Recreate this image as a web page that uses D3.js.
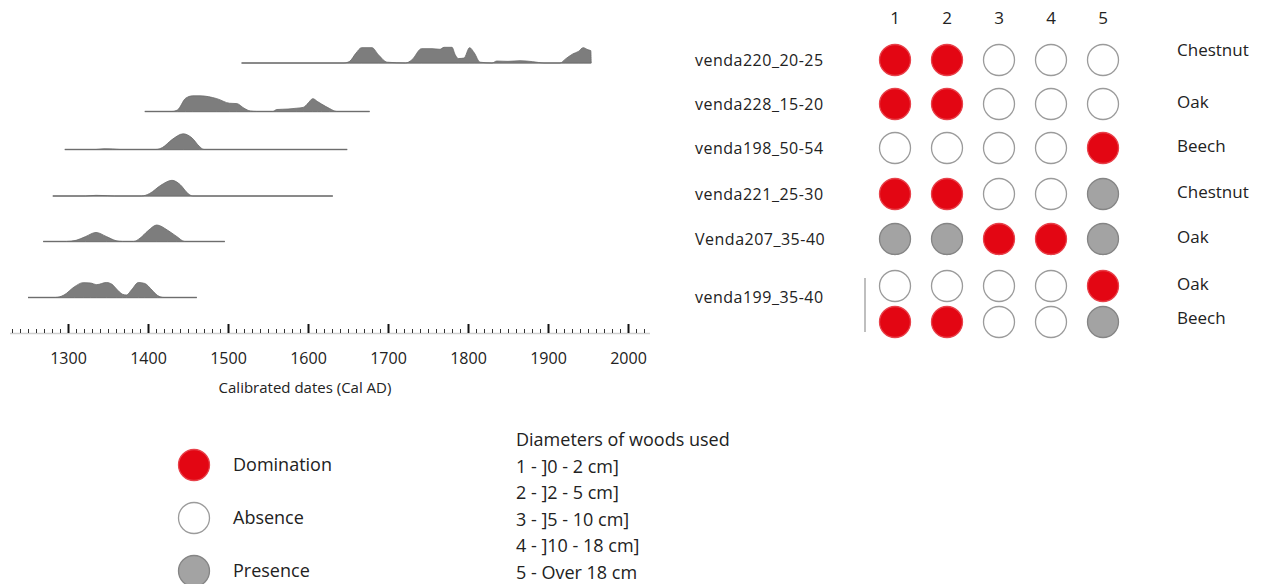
<!DOCTYPE html>
<html>
<head>
<meta charset="utf-8">
<script src="https://cdn.jsdelivr.net/npm/d3@7"></script>
<style>
  body { margin: 0; background: #fff; }
  text { font-family: "Open Sans", "Noto Sans", sans-serif; fill: #222; }
</style>
</head>
<body>
<script>
// taille de la figure
const largeur = 1270;
const hauteur = 584;

// échantillons (lignes du tableau)
const echantillons = ["venda220_20-25", "venda228_15-20", "venda198_50-54",
                      "venda221_25-30", "Venda207_35-40", "venda199_35-40"];
const especes = ["Chestnut", "Oak", "Beech", "Chestnut", "Oak", "Oak", "Beech"];
const classesDiam = ["1", "2", "3", "4", "5"];

// D = domination, A = absence, P = présence
const etats = [
  ["D", "D", "A", "A", "A"],
  ["D", "D", "A", "A", "A"],
  ["A", "A", "A", "A", "D"],
  ["D", "D", "A", "A", "P"],
  ["P", "P", "D", "D", "P"],
  ["A", "A", "A", "A", "D"],
  ["D", "D", "A", "A", "P"]
];
// ligne d'échantillon de chaque rangée de cercles
const rangEchantillon = [0, 1, 2, 3, 4, 5, 5];

// densités de probabilité des dates calibrées [année, densité relative]
const dens220 = [[1517,0],[1645,0],[1652,0.1],[1660,0.6],[1667,0.93],[1680,0.93],[1688,0.5],[1699,0.05],[1722,0],
  [1730,0.2],[1742,0.87],[1755,0.87],[1765,0.83],[1770,0.95],[1780,0.95],[1784,0.5],[1788,0.27],[1795,0.3],
  [1802,0.93],[1808,0.6],[1815,0.05],[1830,0],[1836,0.12],[1850,0.1],[1865,0.14],[1881,0.08],[1895,0],
  [1915,0],[1922,0.25],[1931,0.55],[1938,0.7],[1944,0.93],[1950,0.8],[1953.5,0.75],[1954,0]];
const dens228 = [[1396,0],[1430,0],[1437,0.1],[1447,0.8],[1456,0.95],[1465,0.95],[1486,0.78],[1502,0.5],
  [1511,0.48],[1520,0.2],[1528,0.03],[1536,0],[1556,0],[1561,0.12],[1575,0.15],[1586,0.2],[1594,0.25],
  [1600,0.5],[1606,0.78],[1612,0.6],[1617,0.45],[1627,0.18],[1636,0],[1677,0]];
const dens198 = [[1296,0],[1335,0],[1345,0.04],[1356,0.03],[1365,0],[1410,0],[1418,0.12],[1430,0.6],
  [1444,0.95],[1455,0.7],[1464,0.2],[1470,0],[1649,0]];
const dens221 = [[1281,0],[1322,0],[1335,0.04],[1349,0.02],[1358,0],[1392,0],[1402,0.15],[1416,0.65],
  [1430,0.95],[1440,0.7],[1450,0.15],[1456,0],[1631,0]];
const dens207 = [[1269,0],[1298,0],[1310,0.07],[1322,0.3],[1335,0.55],[1348,0.3],[1360,0.05],[1368,0],
  [1382,0],[1390,0.2],[1400,0.65],[1411,1.0],[1424,0.7],[1436,0.3],[1446,0],[1496,0]];
const dens199 = [[1250,0],[1284,0],[1295,0.15],[1308,0.65],[1319,0.9],[1328,0.88],[1336,0.78],[1348,0.91],
  [1355,0.8],[1361,0.5],[1368,0.2],[1373,0.15],[1380,0.5],[1388,0.91],[1396,0.85],[1405,0.45],[1412,0.12],
  [1420,0],[1461,0]];
const densites = [dens220, dens228, dens198, dens221, dens207, dens199];

const anneesMajeures = d3.range(1300, 2001, 100);
const anneesMineures = d3.range(1230, 2021, 10);

const legendeEtats = [["D", "Domination"], ["A", "Absence"], ["P", "Presence"]];
const legendeDiam = ["Diameters of woods used", "1 - ]0 - 2 cm]", "2 - ]2 - 5 cm]",
                     "3 - ]5 - 10 cm]", "4 - ]10 - 18 cm]", "5 - Over 18 cm"];

// mise en page
const baseDensite = [63, 111.5, 149.5, 196, 241.5, 297.5];
const hauteurDensite = 16.5;
const yAxe = 333;
const rangY = [60, 104, 148, 194, 239, 286, 322];
const decalageEspece = [-8, 0, 0, 0, 0, 0, -2];
const rayonCercle = 15.5;

const couleurs = {
  D: { fill: "#e30613", stroke: "#e8414a" },
  A: { fill: "#ffffff", stroke: "#9b9b9b" },
  P: { fill: "#a3a3a3", stroke: "#858585" }
};

const svg = d3.select("body").append("svg")
    .attr("width", largeur)
    .attr("height", hauteur);

// échelle du temps
const x = d3.scaleLinear().domain([1300, 2000]).range([68, 628]);
const yDens = d3.scaleLinear().domain([0, 1]).range([0, hauteurDensite]);

// densités
densites.forEach((d, i) => {
    const g = svg.append("g").attr("transform", `translate(0,${baseDensite[i]})`);
    g.append("line")
        .attr("x1", x(d[0][0])).attr("x2", x(d[d.length - 1][0]))
        .attr("y1", 0).attr("y2", 0)
        .style("stroke", "#c4c4c4")
        .style("stroke-width", 2);
    const aire = d3.area()
        .x(p => x(p[0]))
        .y0(0)
        .y1(p => -yDens(p[1]))
        .curve(d3.curveMonotoneX);
    g.append("path")
        .attr("d", aire(d))
        .style("fill", "#7d7d7d")
        .style("stroke", "#6a6a6a")
        .style("stroke-width", 0.8);
});

// axe du temps
svg.append("line")
    .attr("x1", 10).attr("x2", 650)
    .attr("y1", yAxe + 0.5).attr("y2", yAxe + 0.5)
    .style("stroke", "#cfcfcf").style("stroke-width", 1.5);

const axeMineur = svg.append("g")
    .attr("transform", `translate(0,${yAxe})`)
    .call(d3.axisBottom(x).tickValues(anneesMineures).tickSize(-4).tickFormat(""));
axeMineur.select(".domain").remove();
axeMineur.selectAll("line").style("stroke", "#333").style("stroke-width", 1);

const axeMajeur = svg.append("g")
    .attr("transform", `translate(0,${yAxe})`)
    .call(d3.axisBottom(x).tickValues(anneesMajeures).tickSize(-9).tickPadding(20).tickFormat(d3.format("d")));
axeMajeur.select(".domain").remove();
axeMajeur.selectAll("line").style("stroke", "#111").style("stroke-width", 2);
axeMajeur.selectAll("text")
    .style("font-size", "16px")
    .style("font-family", "'Open Sans', sans-serif")
    .style("fill", "#222");

svg.append("text")
    .attr("x", 305).attr("y", 393)
    .attr("text-anchor", "middle")
    .style("font-size", "15px")
    .text("Calibrated dates (Cal AD)");

// tableau des diamètres
const xCol = d3.scalePoint().domain(classesDiam).range([895, 1103]);

svg.selectAll(".entete").data(classesDiam).enter().append("text")
    .attr("x", d => xCol(d)).attr("y", 24)
    .attr("text-anchor", "middle")
    .style("font-size", "17px")
    .text(d => d);

echantillons.forEach((nom, i) => {
    const rangs = rangEchantillon.map((r, k) => r === i ? k : -1).filter(k => k >= 0);
    // l'étiquette du double échantillon est un peu au-dessus du milieu
    const yMilieu = rangs.length > 1 ? rangY[rangs[0]] + 11 : rangY[rangs[0]];
    svg.append("text")
        .attr("x", 695).attr("y", yMilieu + 6)
        .style("font-size", "16px")
        .style("letter-spacing", "0.5px")
        .text(nom);
});

etats.forEach((ligne, k) => {
    ligne.forEach((e, j) => {
        svg.append("circle")
            .attr("cx", xCol(classesDiam[j]))
            .attr("cy", rangY[k])
            .attr("r", rayonCercle)
            .style("fill", couleurs[e].fill)
            .style("stroke", couleurs[e].stroke)
            .style("stroke-width", 1.3);
    });
    svg.append("text")
        .attr("x", 1177).attr("y", rangY[k] + 4 + decalageEspece[k])
        .style("font-size", "17px")
        .text(especes[k]);
});

// trait du double échantillon
svg.append("line")
    .attr("x1", 865).attr("x2", 865)
    .attr("y1", 278).attr("y2", 332)
    .style("stroke", "#aaaaaa").style("stroke-width", 1.5);

// légende
legendeEtats.forEach(([e, nom], i) => {
    const y = 465 + i * 53;
    svg.append("circle")
        .attr("cx", 194).attr("cy", y).attr("r", 15.5)
        .style("fill", couleurs[e].fill)
        .style("stroke", couleurs[e].stroke)
        .style("stroke-width", 1.3);
    svg.append("text")
        .attr("x", 233).attr("y", y + 6)
        .style("font-size", "18px")
        .text(nom);
});

legendeDiam.forEach((t, i) => {
    svg.append("text")
        .attr("x", 516).attr("y", 446 + i * 26.5)
        .style("font-size", "18px")
        .text(t);
});
</script>
</body>
</html>
